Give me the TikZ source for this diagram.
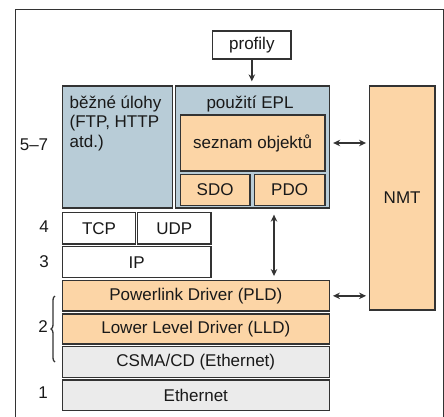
\documentclass[tikz,border=0pt]{standalone}
\usepackage{fontspec}
\setmainfont{Liberation Sans}
\usetikzlibrary{arrows.meta,decorations.pathreplacing}
\definecolor{appblue}{HTML}{B8CCD7}
\definecolor{apporange}{HTML}{FCD5A6}
\definecolor{lowgray}{HTML}{EBEBEB}
\definecolor{edge}{HTML}{333333}
\begin{document}
\begin{tikzpicture}[x=1pt,y=-1pt,
  every node/.style={font=\fontsize{17}{19.5}\selectfont, text=black!90},
  layer/.style={draw=edge, line width=1.3pt, inner sep=0pt, anchor=center},
  plain/.style={layer, fill=white},
  blue/.style={layer, fill=appblue},
  orange/.style={layer, fill=apporange},
  gray/.style={layer, fill=lowgray},
  lbl/.style={inner sep=0pt, anchor=base},
  arr/.style={draw=edge, line width=1.4pt, {Stealth[length=7pt,width=6.5pt]}-{Stealth[length=7pt,width=6.5pt]}},
  arrone/.style={draw=edge, line width=1.4pt, -{Stealth[length=7pt,width=6.5pt]}}
]
\useasboundingbox (0,0) rectangle (444,417);
% open frame
\draw[edge, line width=1pt] (15,417) -- (15,10) -- (443,10) -- (443,417);

% application layer
\node[plain, minimum width=78.3pt, minimum height=28pt] (profily) at (251.85,45) {profily};
\node[blue, minimum width=110pt, minimum height=122pt] (beh) at (117.7,147) {};
\node[inner sep=0pt, anchor=north west, align=left] (behtxt) at (69.5,95.5) {běžné úlohy\\(FTP, HTTP\\atd.)};
\node[blue, minimum width=154pt, minimum height=122pt] (pouz) at (252.3,147) {};
\node[lbl] (pouztxt) at (250,108.5) {použití EPL};
\node[orange, minimum width=144.7pt, minimum height=56pt] (seznam) at (252.65,143) {seznam objektů};
\node[orange, minimum width=69.7pt, minimum height=31.4pt] (sdo) at (215.15,190) {SDO};
\node[orange, minimum width=70.7pt, minimum height=31.4pt] (pdo) at (289.65,190) {PDO};
\node[orange, minimum width=65.7pt, minimum height=224pt] (nmt) at (402.15,198) {NMT};

% transport and network
\node[plain, minimum width=73.4pt, minimum height=31.3pt] (tcp) at (99,228.35) {TCP};
\node[plain, minimum width=73.3pt, minimum height=31.3pt] (udp) at (174.35,228.35) {UDP};
\node[plain, minimum width=148.7pt, minimum height=31pt] (ip) at (136.65,262.2) {IP};

% data link and physical
\node[orange, minimum width=267pt, minimum height=30.3pt] (pld) at (195.8,295.85) {Powerlink Driver (PLD)};
\node[orange, minimum width=267pt, minimum height=30pt] (lld) at (195.8,329) {Lower Level Driver (LLD)};
\node[gray, minimum width=267pt, minimum height=30.6pt] (csma) at (195.8,362) {CSMA/CD (Ethernet)};
\node[gray, minimum width=267pt, minimum height=30.7pt] (eth) at (195.8,395.35) {Ethernet};

% layer numbers
\node[lbl] (l57) at (34,150) {5–7};
\node[lbl] (l4) at (44,232.3) {4};
\node[lbl] (l3) at (44,267.7) {3};
\node[lbl] (l2) at (43,332.7) {2};
\node[lbl] (l1) at (43,398.3) {1};
\coordinate (brbot) at (55,362);
\coordinate (brtop) at (55,296);
\draw[edge, line width=1.3pt, decorate, decoration={brace, amplitude=4pt}] (brbot) -- (brtop);

% connectors
\coordinate (vx) at (274,0);
\draw[arrone, shorten >=4pt] (profily.south) -- (profily.south |- pouz.north);
\draw[arr, shorten <=6pt, shorten >=4pt] (pouz.south -| vx) -- (pld.north -| vx);
\draw[arr, shorten <=7.5pt, shorten >=2.6pt] (seznam.east) -- (seznam.east -| nmt.west);
\draw[arr, shorten <=3pt, shorten >=2.6pt] (pld.east) -- (pld.east -| nmt.west);
\end{tikzpicture}
\end{document}
